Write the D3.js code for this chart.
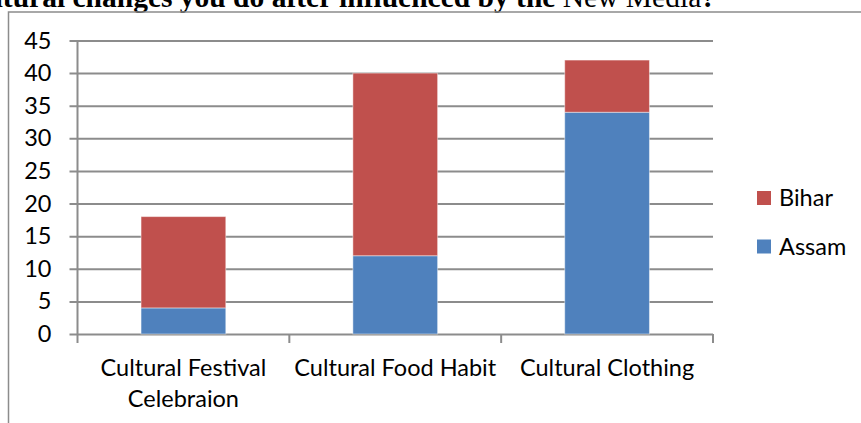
<!DOCTYPE html>
<html>
<head>
<meta charset="utf-8">
<script src="https://cdn.jsdelivr.net/npm/d3@7"></script>
<style>
  html, body { margin: 0; padding: 0; background: #fff; overflow: hidden; }
  svg { display: block; }
</style>
</head>
<body>
<svg id="chart" width="861" height="423"></svg>
<script>
// Categories, series and tick labels
const categories = ["Cultural Festival Celebraion", "Cultural Food Habit", "Cultural Clothing"];
const categoryLines = [["Cultural Festival", "Celebraion"], ["Cultural Food Habit"], ["Cultural Clothing"]];
const assam = [4, 12, 34];
const bihar = [14, 28, 8];
const yTicks = [0, 5, 10, 15, 20, 25, 30, 35, 40, 45];
const seriesNames = ["Assam", "Bihar"];
const seriesColors = ["#4F81BD", "#C0504D"];

const svg = d3.select("#chart");
const font = "Lato, 'Open Sans', sans-serif";
const fontSize = 23.5;
const gridColor = "#8c8c8c";

// Heading, running off the left edge of the frame
const title = svg.append("text")
  .attr("x", 716).attr("y", 6.5)
  .attr("text-anchor", "end")
  .attr("font-family", "'Liberation Serif', 'Times New Roman', serif")
  .attr("font-size", 29.5)
  .attr("font-weight", "bold")
  .attr("fill", "#000");
title.append("tspan").text("What are the cultural changes you do after influenced by the ");
title.append("tspan").attr("font-weight", "normal").text("New Media");
title.append("tspan").text("?");

// Chart frame
svg.append("path")
  .attr("d", "M8.5,430 V12 H870")
  .attr("fill", "none")
  .attr("stroke", "#8c8c8c")
  .attr("stroke-width", 1.5);

const plot = { left: 77.5, right: 713, top: 40.5, bottom: 334 };

const x = d3.scaleBand()
  .domain(categories)
  .range([plot.left, plot.right])
  .paddingInner(0).paddingOuter(0);

const y = d3.scaleLinear()
  .domain([0, 45])
  .range([plot.bottom, plot.top]);

// Horizontal gridlines with the y axis and its labels
const yAxis = d3.axisLeft(y)
  .tickValues(yTicks)
  .tickSize(-(plot.right - plot.left))
  .tickPadding(0)
  .tickFormat(d3.format("d"));

const yg = svg.append("g")
  .attr("transform", `translate(${plot.left},0)`)
  .call(yAxis);
yg.select(".domain").remove();
yg.selectAll(".tick line")
  .attr("x1", -8)
  .attr("stroke", gridColor)
  .attr("stroke-width", 2);
yg.selectAll(".tick text")
  .attr("x", -26)
  .attr("font-family", font)
  .attr("font-size", fontSize)
  .attr("fill", "#000");

// Vertical axis line
svg.append("line")
  .attr("x1", plot.left).attr("x2", plot.left)
  .attr("y1", plot.top).attr("y2", plot.bottom)
  .attr("stroke", gridColor).attr("stroke-width", 2);

// Category boundary ticks below the baseline
const boundaries = categories.map(c => x(c)).concat([x(categories[categories.length - 1]) + x.bandwidth()]);
svg.append("g").selectAll("line")
  .data(boundaries)
  .join("line")
  .attr("x1", d => d).attr("x2", d => d)
  .attr("y1", plot.bottom).attr("y2", plot.bottom + 9)
  .attr("stroke", gridColor).attr("stroke-width", 2);

// Stacked bars
const rows = categories.map((c, i) => ({ category: c, Assam: assam[i], Bihar: bihar[i] }));
const stacked = d3.stack().keys(seriesNames)(rows);
const barWidth = x.bandwidth() / 2.5;

svg.append("g").selectAll("g")
  .data(stacked)
  .join("g")
  .attr("fill", (d, i) => seriesColors[i])
  .selectAll("rect")
  .data(d => d)
  .join("rect")
  .attr("x", d => x(d.data.category) + (x.bandwidth() - barWidth) / 2)
  .attr("width", barWidth)
  .attr("y", d => y(d[1]))
  .attr("height", d => y(d[0]) - y(d[1]))
  .attr("stroke", "rgba(255,255,255,0.45)")
  .attr("stroke-width", 1);

// Category labels
const labels = svg.append("g").selectAll("text")
  .data(categories)
  .join("text")
  .attr("x", d => x(d) + x.bandwidth() / 2)
  .attr("y", 376)
  .attr("text-anchor", "middle")
  .attr("font-family", font)
  .attr("font-size", fontSize)
  .attr("fill", "#000");
labels.each(function (d, i) {
  categoryLines[i].forEach((line, j) => {
    d3.select(this).append("tspan")
      .attr("x", x(d) + x.bandwidth() / 2)
      .attr("dy", j === 0 ? 0 : 31)
      .text(line);
  });
});

// Legend, Bihar above Assam
const legendItems = [
  { name: "Bihar", color: seriesColors[1] },
  { name: "Assam", color: seriesColors[0] }
];
const legend = svg.append("g").selectAll("g")
  .data(legendItems)
  .join("g")
  .attr("transform", (d, i) => `translate(757, ${191 + i * 48.5})`);
legend.append("rect")
  .attr("width", 14).attr("height", 14)
  .attr("fill", d => d.color);
legend.append("text")
  .attr("x", 22).attr("y", 7)
  .attr("dy", "0.35em")
  .attr("font-family", font)
  .attr("font-size", fontSize)
  .attr("fill", "#000")
  .text(d => d.name);
</script>
</body>
</html>
